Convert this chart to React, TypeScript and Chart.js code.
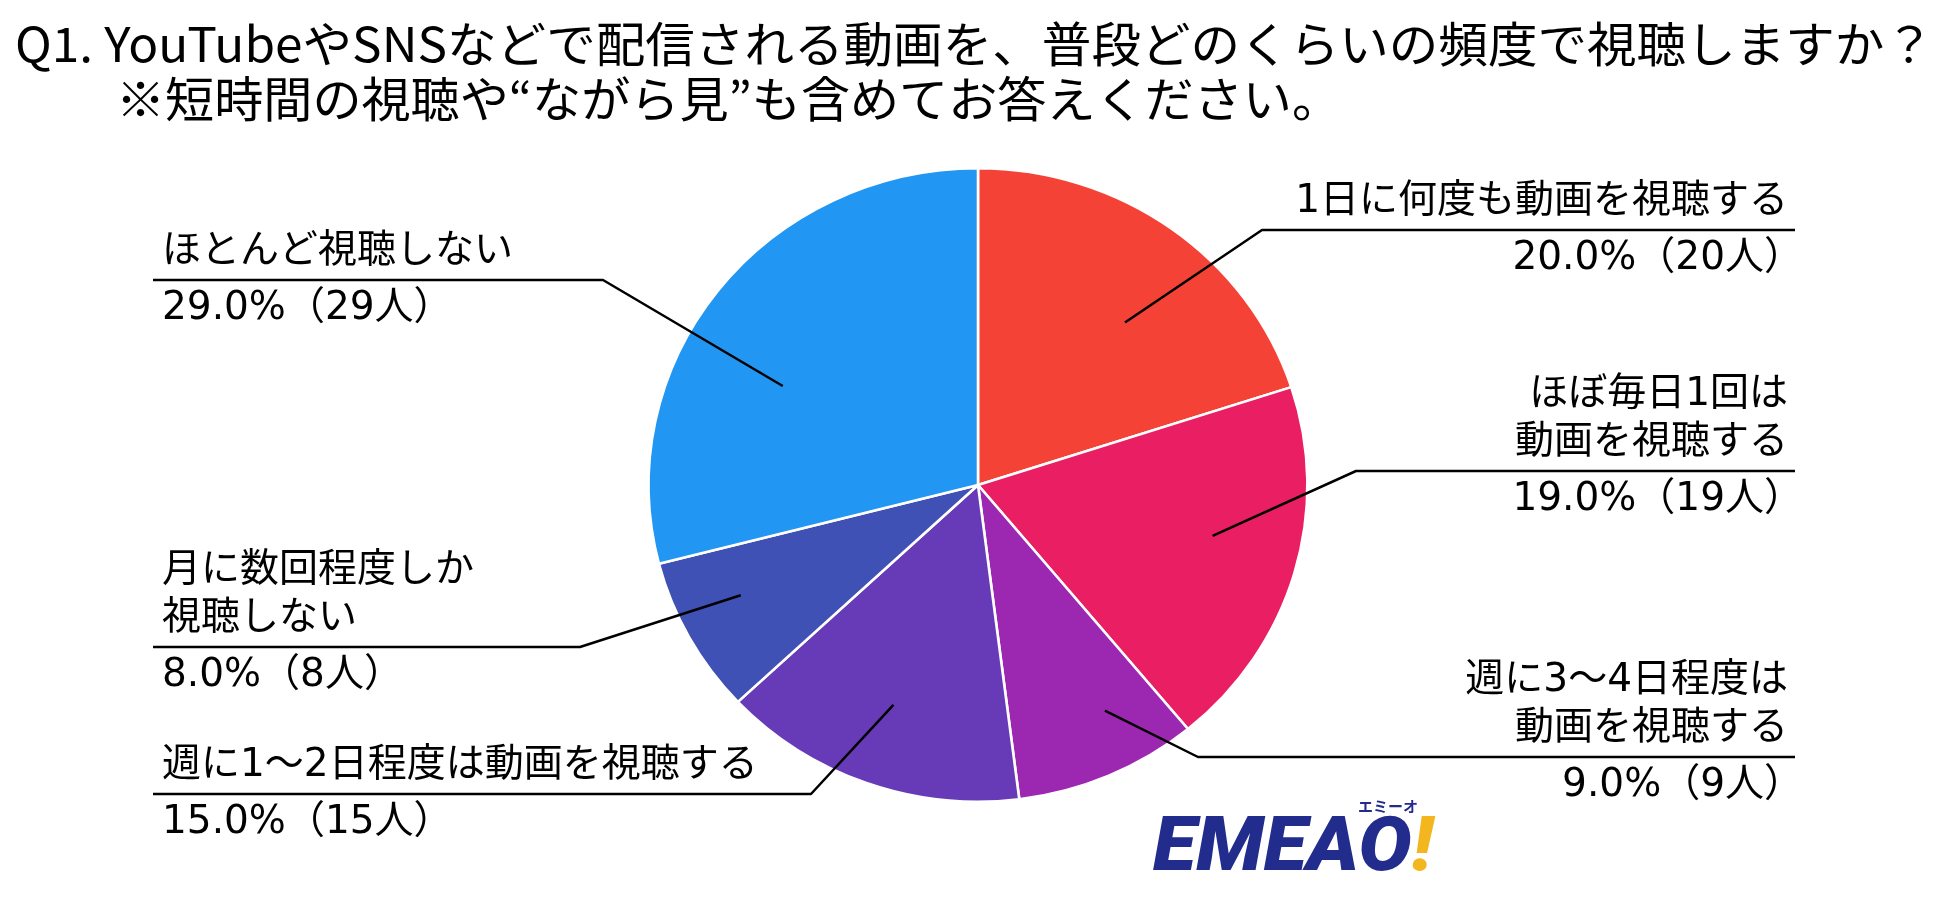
import { useEffect, useRef } from 'react';
import { Chart, registerables } from 'chart.js';

Chart.register(...registerables);

// ---------- data ----------
const titleLines = [
  'Q1. YouTubeやSNSなどで配信される動画を、普段どのくらいの頻度で視聴しますか？',
  '※短時間の視聴や“ながら見”も含めてお答えください。',
];
const categories = [
  '1日に何度も動画を視聴する',
  'ほぼ毎日1回は動画を視聴する',
  '週に3～4日程度は動画を視聴する',
  '週に1～2日程度は動画を視聴する',
  '月に数回程度しか視聴しない',
  'ほとんど視聴しない',
];
const labelLines = [
  ['1日に何度も動画を視聴する'],
  ['ほぼ毎日1回は', '動画を視聴する'],
  ['週に3～4日程度は', '動画を視聴する'],
  ['週に1～2日程度は動画を視聴する'],
  ['月に数回程度しか', '視聴しない'],
  ['ほとんど視聴しない'],
];
const percentages = [20.0, 19.0, 9.0, 15.0, 8.0, 29.0];
const counts = [20, 19, 9, 15, 8, 29];
const sliceColors = ['#F44336', '#E91E63', '#9C27B0', '#673AB7', '#3F51B5', '#2196F3'];

// ---------- layout (positions / styles only) ----------
const W = 1950;
const H = 899;
const STRETCH_X = 1.04;
const FONT = '"Noto Sans CJK JP", "Noto Sans", sans-serif';
const LABEL_FONT = '39px "DejaVu Sans", "Noto Sans CJK JP", sans-serif';
const LINE_GAP = 48;
type Side = 'left' | 'right';
const labelLayout: { side: Side; underlineY: number; bendX: number; frac: number; angleOffsetDeg: number }[] = [
  { side: 'right', underlineY: 230, bendX: 1262, frac: 0.68, angleOffsetDeg: 5 },
  { side: 'right', underlineY: 471, bendX: 1356, frac: 0.73, angleOffsetDeg: -3.5 },
  { side: 'right', underlineY: 757, bendX: 1198, frac: 0.81, angleOffsetDeg: -5 },
  { side: 'left', underlineY: 794, bendX: 811, frac: 0.74, angleOffsetDeg: 0.5 },
  { side: 'left', underlineY: 647, bendX: 580, frac: 0.8, angleOffsetDeg: 3 },
  { side: 'left', underlineY: 280, bendX: 603, frac: 0.67, angleOffsetDeg: -10 },
];
const RIGHT_TEXT_X = 1788;
const RIGHT_PCT_X = 1803;
const RIGHT_LINE_X = 1795;
const LEFT_TEXT_X = 162;
const LEFT_LINE_X = 153;

function fitText(ctx: CanvasRenderingContext2D, text: string, x: number, y: number, width: number) {
  const w = ctx.measureText(text).width;
  ctx.save();
  ctx.translate(x, y);
  ctx.scale(width / w, 1);
  ctx.textAlign = 'left';
  ctx.fillText(text, 0, 0);
  ctx.restore();
}

const stretchPlugin = {
  id: 'stretch',
  beforeDatasetsDraw(chart: any) {
    const meta = chart.getDatasetMeta(0);
    const arc = meta.data[0];
    if (!arc) return;
    const { ctx } = chart;
    ctx.save();
    ctx.translate(arc.x, arc.y);
    ctx.scale(STRETCH_X, 1);
    ctx.translate(-arc.x, -arc.y);
  },
  afterDatasetsDraw(chart: any) {
    chart.ctx.restore();
  },
};

const annotationPlugin = {
  id: 'annotations',
  afterDraw(chart: any) {
    const ctx: CanvasRenderingContext2D = chart.ctx;
    const meta = chart.getDatasetMeta(0);
    ctx.save();
    // title
    ctx.fillStyle = '#000';
    ctx.textBaseline = 'middle';
    ctx.font = `48px ${FONT}`;
    fitText(ctx, titleLines[0], 15, 44, 1919);
    fitText(ctx, titleLines[1], 116, 99, 1225);

    // labels and leaders
    ctx.font = LABEL_FONT;
    ctx.strokeStyle = '#000';
    ctx.lineWidth = 2.5;
    ctx.lineJoin = 'round';
    meta.data.forEach((arc: any, i: number) => {
      const L = labelLayout[i];
      const p = arc.getProps(['x', 'y', 'startAngle', 'endAngle', 'outerRadius'], true);
      const mid = (p.startAngle + p.endAngle) / 2 + (L.angleOffsetDeg * Math.PI) / 180;
      const r = p.outerRadius * L.frac;
      const px = p.x + STRETCH_X * r * Math.cos(mid);
      const py = p.y + r * Math.sin(mid);
      const outerX = L.side === 'right' ? RIGHT_LINE_X : LEFT_LINE_X;
      ctx.beginPath();
      ctx.moveTo(px, py);
      ctx.lineTo(L.bendX, L.underlineY);
      ctx.lineTo(outerX, L.underlineY);
      ctx.stroke();

      const lines = labelLines[i];
      ctx.textAlign = L.side === 'right' ? 'right' : 'left';
      const tx = L.side === 'right' ? RIGHT_TEXT_X : LEFT_TEXT_X;
      const pctX = L.side === 'right' ? RIGHT_PCT_X : LEFT_TEXT_X;
      lines.forEach((ln, k) => {
        const y = L.underlineY - 28 - (lines.length - 1 - k) * LINE_GAP;
        ctx.fillText(ln, tx, y);
      });
      ctx.fillText(`${percentages[i].toFixed(1)}%（${counts[i]}人）`, pctX, L.underlineY + 29);
    });

    // logo
    ctx.textAlign = 'left';
    ctx.textBaseline = 'alphabetic';
    ctx.font = 'italic 900 76px Roboto, "DejaVu Sans", sans-serif';
    const main = 'EMEAO';
    const wMain = ctx.measureText(main).width;
    const wBang = ctx.measureText('!').width;
    const sc = 280 / (wMain + wBang);
    ctx.save();
    ctx.translate(1153, 870);
    ctx.scale(sc, 1);
    ctx.fillStyle = '#222C8C';
    ctx.fillText(main, 0, 0);
    ctx.fillStyle = '#F3B61F';
    ctx.fillText('!', wMain, 0);
    ctx.restore();
    ctx.fillStyle = '#222C8C';
    ctx.font = `bold 15px ${FONT}`;
    ctx.textBaseline = 'middle';
    ctx.fillText('エミーオ', 1358, 806);
    ctx.restore();
  },
};

export default function App() {
  const ref = useRef<HTMLCanvasElement | null>(null);
  useEffect(() => {
    if (!ref.current) return;
    const chart = new Chart(ref.current, {
      type: 'pie',
      data: {
        labels: categories,
        datasets: [
          {
            data: percentages,
            backgroundColor: sliceColors,
            borderColor: '#ffffff',
            borderWidth: 2.5,
          },
        ],
      },
      options: {
        responsive: false,
        maintainAspectRatio: false,
        animation: false,
        layout: { padding: { left: 660, right: 654, top: 167, bottom: 96 } },
        plugins: {
          legend: { display: false },
          tooltip: { enabled: false },
          title: { display: false },
        },
      },
      plugins: [stretchPlugin, annotationPlugin],
    });
    if ((document as any).fonts) {
      (document as any).fonts.load(`38px "Noto Sans CJK JP"`).then(() => chart.draw());
    }
    return () => chart.destroy();
  }, []);
  return (
    <div style={{ position: 'absolute', left: 0, top: 0, width: W, height: H, background: '#fff' }}>
      <canvas ref={ref} width={W} height={H} style={{ display: 'block' }} />
    </div>
  );
}
